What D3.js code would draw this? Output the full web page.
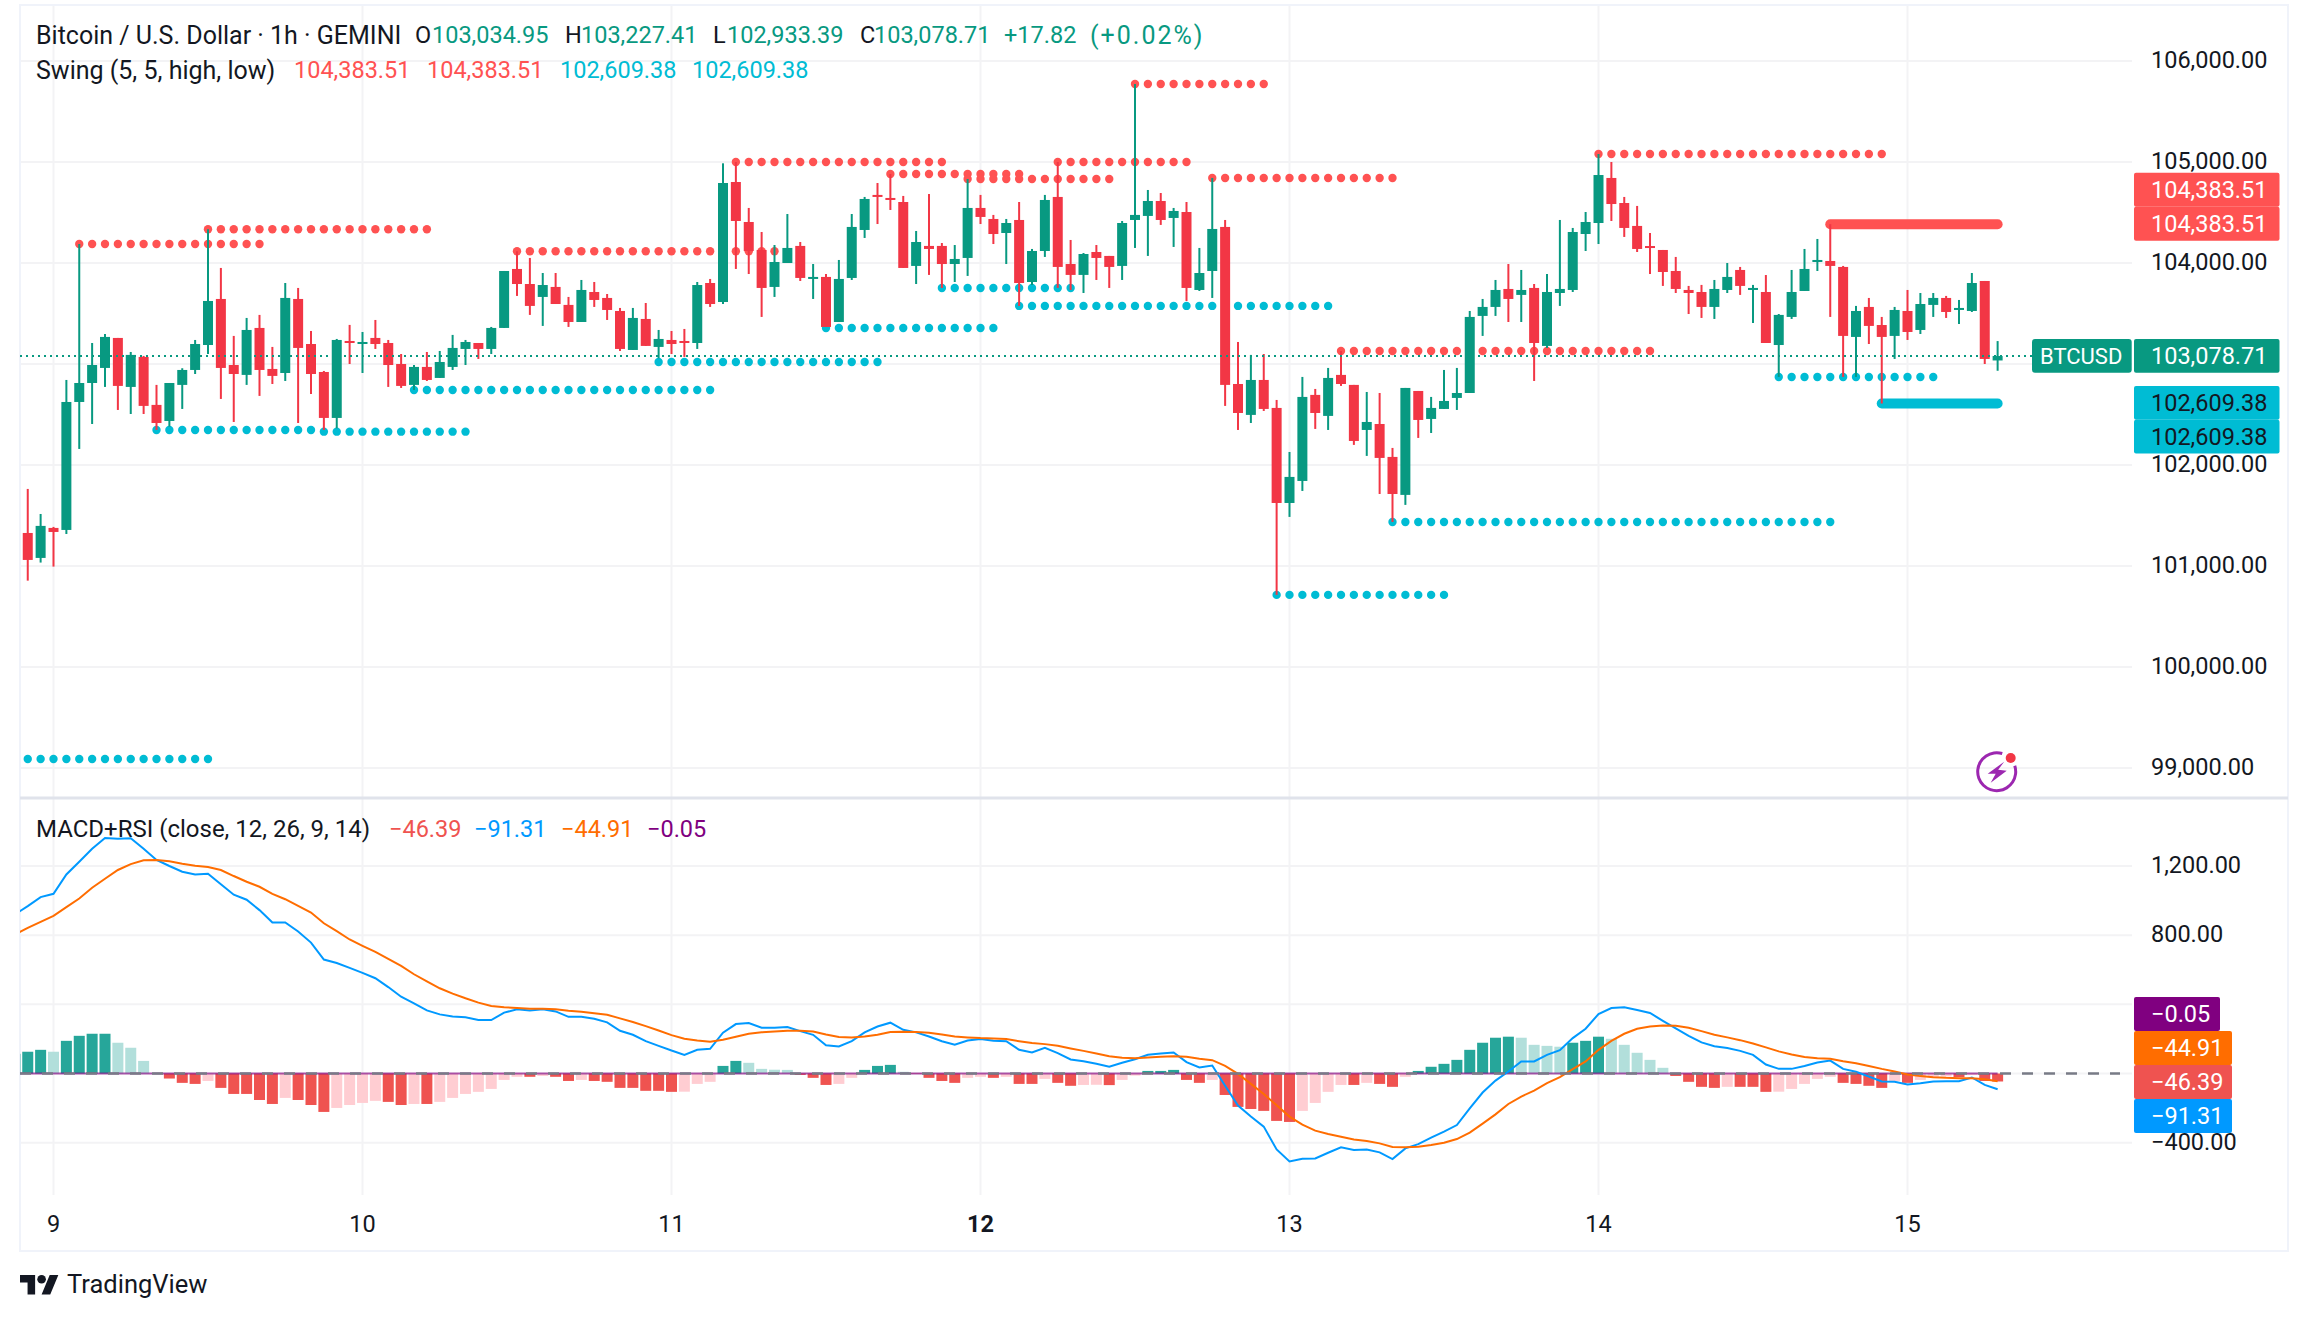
<!DOCTYPE html>
<html>
<head>
<meta charset="utf-8">
<title>BTCUSD 1h</title>
<script src="https://cdnjs.cloudflare.com/ajax/libs/d3/7.8.5/d3.min.js"></script>
<style>
html, body {margin: 0; padding: 0; background: #fff;}
svg {display: block;}
text {font-family: Roboto, sans-serif; fill: #131722;}
</style>
</head>
<body>
<script>
// Hourly candles, first one is bar -2 (bar 0 = midnight of the 9th)
var firstBar = -2;
var openP = [
  101327,101080,101377,101357,102624,102812,102961,103258,102773,103070,
  102595,102436,102793,102941,103188,103644,102990,102892,103357,102951,
  102911,103644,103198,102921,102466,103228,103198,103258,103208,103000,
  102793,102971,102862,102971,103149,103208,103149,103357,103941,103792,
  103664,103763,103585,103416,103713,103654,103525,103139,103446,103169,
  103238,103228,103208,103802,103614,104802,104406,104129,103763,104000,
  104169,103842,103862,103416,103852,104327,104674,104644,104604,103971,
  104169,104169,103990,104050,104545,104436,104297,104426,103812,104119,
  104654,103990,103882,104109,104070,103971,104426,104466,104614,104446,
  104505,103733,103921,104357,102802,102496,102842,102565,101624,101842,
  102694,102486,102892,102793,102347,102406,102080,101704,102733,102456,
  102555,102664,102713,103476,103565,103743,103684,103753,103179,103703,
  103733,104287,104396,104842,104594,104367,104168,104129,103921,103733,
  103713,103565,103733,103931,103733,103713,103188,103466,103723,104010,
  104020,103961,103268,103565,103386,103278,103525,103337,103585,103654,
  103535,103525,103822,103035];
var highP = [
  101763,101515,101387,102842,104188,103208,103297,103258,103119,103080,
  102793,102812,102958,103238,104334,103951,103278,103456,103486,103169,
  103802,103753,103327,102931,103248,103387,103317,103436,103238,103099,
  102990,103119,103129,103288,103238,103208,103367,103921,104116,104050,
  103901,103901,103664,103832,103812,103693,103555,103555,103604,103337,
  103327,103347,103812,103842,104987,105000,104545,104307,104178,104485,
  104208,103990,103891,104030,104485,104654,104792,104881,104664,104317,
  104683,104198,104178,104832,104674,104476,104436,104604,104139,104674,
  105000,104228,104099,104178,104070,104416,105772,104723,104693,104545,
  104604,104149,104842,104426,103218,103090,103099,102644,102129,102872,
  102753,102961,103129,102793,102723,102713,102169,102763,102733,102674,
  102941,102961,103525,103644,103832,103990,103931,103792,103891,104426,
  104347,104505,105079,105000,104654,104565,104297,104129,104060,103773,
  103783,103832,104000,103961,103783,103881,103495,103931,104139,104238,
  104384,103971,103575,103654,103466,103565,103733,103703,103703,103674,
  103634,103901,103822,103227];
var lowP = [
  100855,101034,100994,101317,102159,102406,102773,102545,102505,102505,
  102347,102380,102555,102901,103099,102654,102426,102793,102684,102802,
  102832,102416,102703,102347,102363,103000,102911,103149,102773,102763,
  102743,102832,102862,102941,102990,103050,103099,103357,103674,103486,
  103377,103594,103367,103416,103565,103436,103129,103139,103179,103057,
  103099,103070,103149,103565,103594,103941,103891,103466,103664,104000,
  103822,103644,103367,103416,103832,104248,104386,104525,103951,103792,
  103882,103753,103812,103872,104386,104188,103990,103575,103782,104060,
  103753,103733,103703,103832,103753,103832,104149,104070,104377,104159,
  103624,103723,103654,102585,102347,102416,102535,100714,101486,101743,
  102357,102347,102783,102199,102090,101713,101436,101605,102268,102317,
  102555,102545,102713,103278,103476,103416,103416,102832,103159,103575,
  103713,104119,104188,104416,104258,104109,103891,103773,103703,103495,
  103456,103446,103703,103684,103406,103208,102872,103446,103723,103921,
  103466,102872,102872,103198,102609,103050,103238,103297,103466,103456,
  103396,103515,103000,102933];
var closeP = [
  101060,101397,101337,102624,102812,102990,103268,102783,103090,102585,
  102416,102812,102941,103198,103624,102961,102901,103337,102941,102882,
  103654,103159,102901,102466,103238,103208,103218,103198,102990,102783,
  102971,102842,103020,103159,103218,103149,103357,103921,103792,103575,
  103782,103594,103416,103733,103634,103535,103149,103456,103179,103248,
  103198,103208,103782,103594,104792,104416,104119,103753,104010,104149,
  103852,103862,103367,103842,104357,104634,104654,104624,103951,104208,
  104139,103990,104040,104545,104456,104287,104396,103802,104119,104624,
  103961,103882,104089,104050,103961,104396,104476,104614,104426,104515,
  103753,103901,104337,102793,102515,102842,102555,101624,101882,102674,
  102515,102862,102802,102238,102426,102070,101713,102763,102446,102565,
  102634,102713,103466,103565,103733,103644,103733,103208,103713,103743,
  104307,104406,104871,104584,104347,104139,104149,103911,103743,103703,
  103565,103743,103862,103773,103753,103208,103486,103713,103941,104030,
  103971,103278,103525,103377,103268,103535,103317,103594,103654,103515,
  103555,103802,103050,103079];

// Swing levels: [first bar, last bar, price]
var swingHighs = [
  [2,16,104188],[12,29,104334],[36,56,104116],[53,69,105000],[65,75,104881],[71,82,104832],
  [78,88,105000],[84,94,105772],[90,104,104842],[100,124,103129],[120,142,105079]];
var swingLows = [
  [-2,12,99089],[8,20,102347],[21,32,102330],[28,51,102743],[47,64,103020],[60,73,103357],
  [69,79,103753],[75,99,103575],[95,108,100714],[104,138,101436],[134,146,102872]];
var currentHigh = [138,151,104383.51];
var currentLow = [142,151,102609.38];
var lastPrice = 103078.71;

// MACD pane starts one bar earlier, at bar -3
var macdFirstBar = -3;
var histValues = [
  114,126,137,126,189,218,230,230,178,149,73,2,-29,-54,-60,-43,-83,-118,-118,-153,
  -176,-141,-153,-182,-222,-199,-182,-170,-158,-164,-182,-176,-176,-164,-141,-118,-106,-89,-37,-19,
  -19,-14,-19,-43,-37,-43,-48,-83,-83,-100,-100,-106,-105,-60,-48,44,73,62,27,22,
  21,-8,-25,-66,-60,-25,21,44,50,10,-2,-25,-43,-54,-25,-19,-25,-19,-60,-60,
  -31,-54,-71,-66,-65,-67,-37,-12,15,15,21,-37,-54,-37,-124,-193,-205,-216,-274,-280,
  -216,-170,-106,-66,-66,-54,-60,-77,-19,15,39,56,79,137,178,207,213,207,166,160,
  155,178,189,213,201,166,120,79,33,-14,-48,-77,-83,-77,-77,-77,-106,-105,-89,-60,
  -31,-19,-54,-60,-71,-83,-43,-54,-37,-21,-17,-21,-8,-43,-46];
var macdLine = [
  920,968,1020,1039,1151,1225,1300,1362,1358,1360,1300,1235,1200,1167,1151,1155,1095,1034,1005,945,
  873,873,821,757,659,639,611,582,551,500,444,406,365,342,330,325,309,309,352,371,
  365,371,359,328,328,317,296,247,224,187,160,133,108,137,143,236,286,292,265,265,
  269,245,224,164,156,187,238,272,294,253,238,214,187,166,191,199,189,187,137,122,
  149,118,81,71,56,39,62,83,108,116,122,66,35,46,-71,-185,-249,-307,-439,-508,
  -493,-491,-458,-427,-442,-439,-456,-495,-433,-408,-371,-336,-298,-201,-110,-41,12,70,70,108,
  135,205,259,344,379,383,367,350,305,261,218,180,158,147,131,108,52,27,27,44,
  64,75,27,10,-17,-46,-48,-64,-56,-46,-44,-44,-23,-66,-91];
var signalLine = [
  804,842,877,912,962,1012,1074,1126,1177,1211,1233,1235,1227,1213,1202,1194,1177,1142,1109,1080,
  1039,1008,970,931,869,823,775,738,703,663,622,574,533,493,462,435,410,390,383,379,
  375,375,371,363,357,348,340,319,298,274,249,222,201,191,184,195,213,230,238,243,
  247,247,243,226,211,209,214,224,240,241,240,236,226,214,209,205,203,199,187,176,
  170,160,145,131,116,100,91,89,93,97,100,97,85,77,44,-2,-60,-118,-184,-249,
  -296,-330,-350,-365,-381,-390,-404,-425,-427,-423,-413,-400,-379,-342,-290,-236,-176,-133,-99,-56,
  -21,25,70,137,189,230,259,272,278,276,265,245,224,209,193,174,151,128,110,95,
  89,85,71,60,44,27,12,-6,-15,-21,-25,-27,-27,-33,-45];
// the fourth plot hugs the zero line over the whole range
var rsiBars = [-3,151];
var rsiValues = [0.1,-0.05];

// Axis ticks and labels, the ones the value tags hide in the picture stay empty
var priceTicks = [99000,100000,101000,102000,103000,104000,105000,106000];
var priceTickLabels = ["99,000.00","100,000.00","101,000.00","102,000.00","","104,000.00","105,000.00","106,000.00"];
var macdTicks = [-400,0,400,800,1200];
var macdTickLabels = ["\u2212400.00","","","800.00","1,200.00"];
var dayBars = [0,24,48,72,96,120,144];
var dayLabels = ["9","10","11","12","13","14","15"];

var width = 2308,
    height = 1321,
    paneLeft = 20,
    paneRight = 2132,
    frameRight = 2288,
    frameTop = 6,
    frameBottom = 1251,
    gridBottom = 1195,
    sepY = 798,
    axisX = 2151,
    labelX = 2134,
    labelRight = 2279.5;

var up = "#089981", down = "#F23645",
    resist = "#FF5252", support = "#00BCD4",
    gridCol = "#F3F3F5", frameCol = "#F0F3FA", sepCol = "#E0E3EB";

var svg = d3.select("body").append("svg")
  .attr("width", width)
  .attr("height", height);

var x = d3.scaleLinear().domain([0,144]).range([53.5,1907.5]);
var y = d3.scaleLinear().domain([99000,106000]).range([768,61]);
var yMacd = d3.scaleLinear().domain([-400,1200]).range([1142.7,866]);

svg.append("clipPath").attr("id","pane")
  .append("rect").attr("x",paneLeft).attr("y",frameTop).attr("width",paneRight-paneLeft).attr("height",gridBottom-frameTop);

// Grid
svg.append("g").selectAll("line").data(dayBars).enter().append("line")
  .attr("x1",d => x(d)).attr("x2",d => x(d))
  .attr("y1",frameTop).attr("y2",gridBottom)
  .style("stroke",gridCol).style("stroke-width",2);
svg.append("g").selectAll("line").data(priceTicks).enter().append("line")
  .attr("x1",paneLeft).attr("x2",paneRight)
  .attr("y1",d => y(d)).attr("y2",d => y(d))
  .style("stroke",gridCol).style("stroke-width",2);
svg.append("g").selectAll("line").data(macdTicks).enter().append("line")
  .attr("x1",paneLeft).attr("x2",paneRight)
  .attr("y1",d => yMacd(d)).attr("y2",d => yMacd(d))
  .style("stroke",gridCol).style("stroke-width",2);

// Frame and pane separator
svg.append("rect")
  .attr("x",paneLeft).attr("y",frameTop-1)
  .attr("width",frameRight-paneLeft).attr("height",frameBottom-frameTop+1)
  .style("fill","none").style("stroke",frameCol).style("stroke-width",2);
svg.append("line")
  .attr("x1",paneLeft).attr("x2",frameRight).attr("y1",sepY).attr("y2",sepY)
  .style("stroke",sepCol).style("stroke-width",3);

// Swing dots, the candles go on top of them
function drawDots(levels, col) {
  var dots = [];
  levels.forEach(function(l) {
    d3.range(l[0], l[1]+1).forEach(function(b) { dots.push({bar:b, price:l[2]}); });
  });
  svg.append("g").selectAll("circle").data(dots).enter().append("circle")
    .attr("cx",d => x(d.bar)).attr("cy",d => y(d.price)).attr("r",4.2)
    .style("fill",col);
}
drawDots(swingLows, support);
drawDots(swingHighs, resist);

// Current levels as thick bars
[[currentHigh,resist],[currentLow,support]].forEach(function(c) {
  svg.append("line")
    .attr("x1",x(c[0][0])).attr("x2",x(c[0][1]))
    .attr("y1",y(c[0][2])).attr("y2",y(c[0][2]))
    .style("stroke",c[1]).style("stroke-width",10).style("stroke-linecap","round");
});

// Candles
var bars = d3.range(openP.length);
var candles = svg.append("g").selectAll("g").data(bars).enter().append("g");
candles.append("rect")
  .attr("x",d => x(d+firstBar)-1)
  .attr("width",2)
  .attr("y",d => y(highP[d]))
  .attr("height",d => y(lowP[d])-y(highP[d]))
  .style("fill",d => closeP[d]>=openP[d] ? up : down);
candles.append("rect")
  .attr("x",d => x(d+firstBar)-5)
  .attr("width",10)
  .attr("y",d => y(Math.max(openP[d],closeP[d])))
  .attr("height",d => Math.max(2,Math.abs(y(openP[d])-y(closeP[d]))))
  .style("fill",d => closeP[d]>=openP[d] ? up : down);

// Last price line
svg.append("line")
  .attr("x1",paneLeft).attr("x2",2032)
  .attr("y1",y(lastPrice)).attr("y2",y(lastPrice))
  .style("stroke",up).style("stroke-width",2).style("stroke-dasharray","2,4");

// MACD pane
var macdG = svg.append("g").attr("clip-path","url(#pane)");
macdG.selectAll("rect").data(histValues).enter().append("rect")
  .attr("x",(d,i) => x(i+macdFirstBar)-5.5)
  .attr("width",11)
  .attr("y",d => Math.min(yMacd(0),yMacd(d)))
  .attr("height",d => Math.abs(yMacd(d)-yMacd(0)))
  .style("fill",function(d,i) {
    var prev = i>0 ? histValues[i-1] : d;
    if (d>=0) return d>=prev ? "#26A69A" : "#B2DFDB";
    return d<=prev ? "#EF5350" : "#FFCDD2";
  });

var rsiLine = d3.line().x((d,i) => x(rsiBars[i])).y(d => yMacd(d));
macdG.append("path").datum(rsiValues).attr("d",rsiLine)
  .style("fill","none").style("stroke","#800080").style("stroke-width",2).style("opacity",0.65);
svg.append("line")
  .attr("x1",paneLeft).attr("x2",2120).attr("y1",yMacd(0)).attr("y2",yMacd(0))
  .style("stroke","#787B86").style("stroke-width",2.5).style("stroke-dasharray","11,11");

var macdPath = d3.line().x((d,i) => x(i+macdFirstBar)).y(d => yMacd(d));
macdG.append("path").datum(macdLine).attr("d",macdPath)
  .style("fill","none").style("stroke","#0099FF").style("stroke-width",2);
macdG.append("path").datum(signalLine).attr("d",macdPath)
  .style("fill","none").style("stroke","#FF6D00").style("stroke-width",2);

// Text helper
function label(txt, px, py, size, col, anchor, weight) {
  return svg.append("text")
    .attr("x",px).attr("y",py)
    .attr("dominant-baseline","central")
    .attr("text-anchor",anchor || "start")
    .style("font-size",size+"px")
    .style("font-weight",weight || 400)
    .style("fill",col || "#131722")
    .text(txt);
}

// Legend
var numSize = 23.5;
var titleRow = [
  ["O",415,"#131722"],["103,034.95",432,up],
  ["H",565,"#131722"],["103,227.41",581,up],
  ["L",713,"#131722"],["102,933.39",727,up],
  ["C",860,"#131722"],["103,078.71",874,up],
  ["+17.82",1004,up]];
label("Bitcoin / U.S. Dollar \u00B7 1h \u00B7 GEMINI",36,35,25);
titleRow.forEach(t => label(t[0],t[1],35,numSize,t[2]));
label("(+0.02%)",1090,35,25,up).style("letter-spacing","2px");
var swingRow = [
  ["104,383.51",294,resist],["104,383.51",427,resist],
  ["102,609.38",560,support],["102,609.38",692,support]];
label("Swing (5, 5, high, low)",36,70,25);
swingRow.forEach(t => label(t[0],t[1],70,numSize,t[2]));
var macdRow = [
  ["\u221246.39",389,"#EF5350"],["\u221291.31",474,"#0099FF"],
  ["\u221244.91",561,"#FF6D00"],["\u22120.05",647,"#800080"]];
label("MACD+RSI (close, 12, 26, 9, 14)",36,829,24);
macdRow.forEach(t => label(t[0],t[1],829,numSize,t[2]));

// Axis labels
priceTicks.forEach(function(p,i) {
  if (priceTickLabels[i]) label(priceTickLabels[i],axisX,y(p)-1,numSize);
});
macdTicks.forEach(function(m,i) {
  if (macdTickLabels[i]) label(macdTickLabels[i],axisX,yMacd(m)-1,numSize);
});

// Day labels
dayLabels.forEach(function(d,i) {
  label(d,x(dayBars[i]),1224,numSize,"#131722","middle",d==="12" ? 700 : 400);
});

// Price labels on the axis
function tag(txt, y0, h, right, fill, col, rx) {
  svg.append("rect").attr("x",labelX).attr("y",y0).attr("width",right-labelX).attr("height",h)
    .attr("rx",rx || 2).style("fill",fill);
  label(txt,axisX,y0+h/2,numSize,col);
}
tag("104,383.51",172.7,34,labelRight,resist,"#fff");
tag("104,383.51",206.7,34,labelRight,resist,"#fff");
tag("102,609.38",386,33.7,labelRight,support,"#131722");
tag("102,609.38",419.7,33.7,labelRight,support,"#131722");
tag("103,078.71",339,33.7,labelRight,up,"#fff");
svg.append("rect").attr("x",2032).attr("y",339).attr("width",99.7).attr("height",33.7).attr("rx",3).style("fill",up);
label("BTCUSD",2040,356,22,"#fff");

tag("\u22120.05",997,34,2220,"#800080","#fff");
tag("\u221244.91",1031,34,2232,"#FF6D00","#fff");
tag("\u221246.39",1065,34,2232,"#EF5350","#fff");
tag("\u221291.31",1099,34,2232,"#0099FF","#fff");

// Lightning badge
var badge = svg.append("g").attr("transform","translate(1996.7,771.7)");
badge.append("path")
  .attr("d",d3.arc()({innerRadius:17.5,outerRadius:20.5,startAngle:72*Math.PI/180,endAngle:377*Math.PI/180}))
  .style("fill","#9C27B0");
badge.append("polygon")
  .attr("points","7.5,-10 -9,2 -1,2 -6,11 10,-1 1.5,-2")
  .style("fill","#9C27B0");
badge.append("circle").attr("cx",14).attr("cy",-13.7).attr("r",5).style("fill","#F23645");

// TradingView mark
var logo = svg.append("g").attr("transform","translate(20,1267.4) scale(1.08)");
logo.append("path").attr("d","M14 25H7V14H0V7h14v18zM28 25h-8l7.5-18h8L28 25z").style("fill","#131722");
logo.append("circle").attr("cx",20).attr("cy",11).attr("r",4).style("fill","#131722");
label("TradingView",67,1284,25.5,"#131722");
</script>
</body>
</html>
